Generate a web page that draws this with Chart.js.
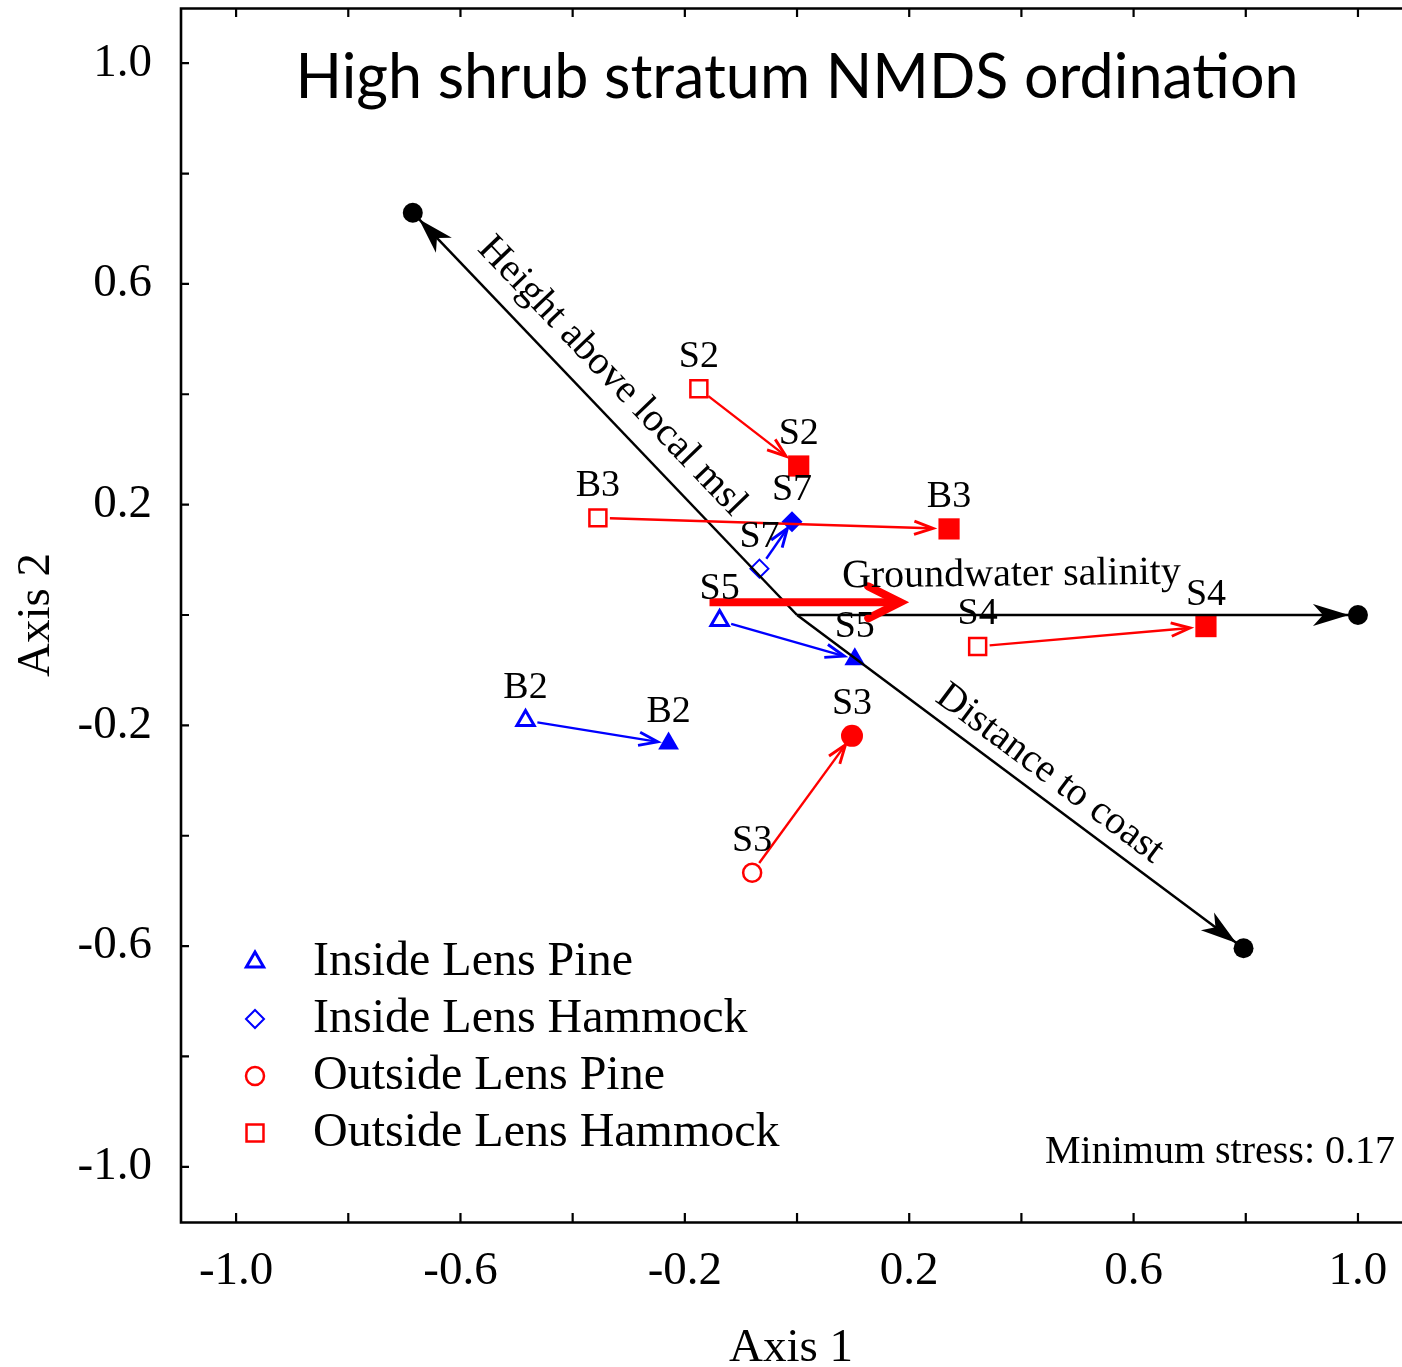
<!DOCTYPE html>
<html>
<head>
<meta charset="utf-8">
<title>High shrub stratum NMDS ordination</title>
<script src="https://cdn.jsdelivr.net/npm/chart.js@4.4.0/dist/chart.umd.min.js"></script>
<style>
html, body { margin: 0; padding: 0; background: #fff; overflow: hidden; }
#wrap { position: relative; width: 1402px; height: 1367px; }
</style>
</head>
<body>
<div id="wrap"><canvas id="nmds"></canvas></div>
<script>
// groups (legend order)
var groupNames = ['Inside Lens Pine', 'Inside Lens Hammock', 'Outside Lens Pine', 'Outside Lens Hammock'];

// open symbol = first survey, filled symbol = second survey
var ilpSites = ['B2', 'S5'];
var ilpOpenX = [-0.484, -0.138];
var ilpOpenY = [-0.191, -0.010];
var ilpFilledX = [-0.229, 0.103];
var ilpFilledY = [-0.233, -0.080];

var ilhSites = ['S7'];
var ilhOpenX = [-0.067];
var ilhOpenY = [0.084];
var ilhFilledX = [-0.009];
var ilhFilledY = [0.169];

var olpSites = ['S3'];
var olpOpenX = [-0.080];
var olpOpenY = [-0.467];
var olpFilledX = [0.098];
var olpFilledY = [-0.219];

var olhSites = ['S2', 'B3', 'S4'];
var olhOpenX = [-0.175, -0.355, 0.322];
var olhOpenY = [0.410, 0.176, -0.057];
var olhFilledX = [0.003, 0.271, 0.729];
var olhFilledY = [0.270, 0.156, -0.021];

// environmental vectors (biplot)
var envNames = ['Height above local msl', 'Distance to coast', 'Groundwater salinity'];
var envX = [-0.685, 0.796, 1.0];
var envY = [0.729, -0.604, 0.0];

// overall shift arrow
var shiftX = [-0.156, 0.184];
var shiftY = [0.023, 0.023];

var axisTicks = [-1.0, -0.8, -0.6, -0.4, -0.2, 0, 0.2, 0.4, 0.6, 0.8, 1.0];
var labeledTicks = ['-1.0', '-0.6', '-0.2', '0.2', '0.6', '1.0'];
var stressText = 'Minimum stress: 0.17';

var SERIF = "'Liberation Serif', 'Times New Roman', serif";
var BLUE = '#0000ff';
var RED = '#ff0000';

function pts(xs, ys) {
    return xs.map(function (x, i) { return {x: x, y: ys[i]}; });
}

var groups = [
    {sites: ilpSites, ox: ilpOpenX, oy: ilpOpenY, fx: ilpFilledX, fy: ilpFilledY, color: BLUE, style: 'triangle', rOpen: 10, rFill: 12, bw: 3, gapEnd: 11},
    {sites: ilhSites, ox: ilhOpenX, oy: ilhOpenY, fx: ilhFilledX, fy: ilhFilledY, color: BLUE, style: 'rectRot', rOpen: 9, rFill: 10.5, bw: 2, gapEnd: 8},
    {sites: olpSites, ox: olpOpenX, oy: olpOpenY, fx: olpFilledX, fy: olpFilledY, color: RED, style: 'circle', rOpen: 9, rFill: 11, bw: 2.5, gapEnd: 11},
    {sites: olhSites, ox: olhOpenX, oy: olhOpenY, fx: olhFilledX, fy: olhFilledY, color: RED, style: 'rect', rOpen: 12, rFill: 15, bw: 2.5, gapEnd: 16}
];

var datasets = [];
// big shift arrow (top)
datasets.push({
    label: 'shift', data: pts(shiftX, shiftY), showLine: true,
    borderColor: RED, borderWidth: 8, pointRadius: 0, order: 1
});
// vectors
envNames.forEach(function (name, i) {
    datasets.push({
        label: name, data: [{x: 0, y: 0}, {x: envX[i], y: envY[i]}], showLine: true,
        borderColor: '#000', borderWidth: 2.5, pointRadius: [0, 10], pointBorderWidth: 0,
        pointBackgroundColor: '#000', order: 2
    });
});
// site markers
groups.forEach(function (g, i) {
    g.openIndex = datasets.length;
    datasets.push({
        label: groupNames[i], data: pts(g.ox, g.oy), pointStyle: g.style,
        pointRadius: g.rOpen, pointBorderWidth: g.bw, pointBorderColor: g.color,
        pointBackgroundColor: 'rgba(0,0,0,0)', order: 3
    });
    datasets.push({
        label: groupNames[i] + ' (filled)', data: pts(g.fx, g.fy), pointStyle: g.style,
        pointRadius: g.rFill, pointBorderWidth: 0, pointBackgroundColor: g.color, order: 3
    });
});

function arrowTo(ctx, x1, y1, x2, y2, gap1, gap2, head) {
    var dx = x2 - x1, dy = y2 - y1, len = Math.sqrt(dx * dx + dy * dy);
    var ux = dx / len, uy = dy / len;
    var sx = x1 + ux * gap1, sy = y1 + uy * gap1;
    var ex = x2 - ux * gap2, ey = y2 - uy * gap2;
    var a = Math.atan2(dy, dx);
    ctx.lineWidth = 2.4;
    ctx.beginPath();
    ctx.moveTo(sx, sy);
    ctx.lineTo(ex - ux * 3, ey - uy * 3);
    ctx.stroke();
    ctx.lineWidth = 2.9;
    ctx.beginPath();
    ctx.moveTo(ex - head * Math.cos(a - 0.34), ey - head * Math.sin(a - 0.34));
    ctx.lineTo(ex, ey);
    ctx.lineTo(ex - head * Math.cos(a + 0.34), ey - head * Math.sin(a + 0.34));
    ctx.stroke();
}

function stealthHead(ctx, tx, ty, a, len, half, notch) {
    var bx = Math.cos(a), by = Math.sin(a), px = -by, py = bx;
    ctx.beginPath();
    ctx.moveTo(tx, ty);
    ctx.lineTo(tx - bx * len + px * half, ty - by * len + py * half);
    ctx.lineTo(tx - bx * notch, ty - by * notch);
    ctx.lineTo(tx - bx * len - px * half, ty - by * len - py * half);
    ctx.closePath();
    ctx.fill();
}

var decor = {
    id: 'decor',
    afterDatasetsDraw: function (chart) {
        var ctx = chart.ctx, xs = chart.scales.x, ys = chart.scales.y;
        var ox = xs.getPixelForValue(0), oy = ys.getPixelForValue(0);
        ctx.save();
        // vector arrowheads
        ctx.fillStyle = '#000';
        envNames.forEach(function (n, i) {
            var ex = xs.getPixelForValue(envX[i]), ey = ys.getPixelForValue(envY[i]);
            var a = Math.atan2(ey - oy, ex - ox);
            stealthHead(ctx, ex - Math.cos(a) * 9, ey - Math.sin(a) * 9, a, 36, 11, 26);
        });
        // shift arrow head
        var hx = xs.getPixelForValue(shiftX[1]), hy = ys.getPixelForValue(shiftY[1]);
        ctx.strokeStyle = RED;
        ctx.lineWidth = 8;
        ctx.lineCap = 'round';
        ctx.lineJoin = 'miter';
        ctx.beginPath();
        ctx.moveTo(hx - 32, hy - 16);
        ctx.lineTo(hx, hy);
        ctx.lineTo(hx - 32, hy + 16);
        ctx.stroke();
        // before -> after arrows
        ctx.lineCap = 'butt';
        groups.forEach(function (g) {
            ctx.strokeStyle = g.color;
            g.sites.forEach(function (s, k) {
                arrowTo(ctx, xs.getPixelForValue(g.ox[k]), ys.getPixelForValue(g.oy[k]),
                    xs.getPixelForValue(g.fx[k]), ys.getPixelForValue(g.fy[k]), 12, g.gapEnd, 20);
            });
        });
        // site labels
        ctx.fillStyle = '#000';
        ctx.font = '38px ' + SERIF;
        ctx.textAlign = 'center';
        ctx.textBaseline = 'middle';
        groups.forEach(function (g) {
            g.sites.forEach(function (s, k) {
                ctx.fillText(s, xs.getPixelForValue(g.ox[k]), ys.getPixelForValue(g.oy[k]) - 32);
                ctx.fillText(s, xs.getPixelForValue(g.fx[k]), ys.getPixelForValue(g.fy[k]) - 32);
            });
        });
        // vector labels, along each vector
        var place = [[0.54, 31], [0.534, 24], [0.383, 40]];
        ctx.font = '40px ' + SERIF;
        envNames.forEach(function (n, i) {
            var ex = xs.getPixelForValue(envX[i]), ey = ys.getPixelForValue(envY[i]);
            var a = Math.atan2(ey - oy, ex - ox);
            var rot = a;
            if (rot > Math.PI / 2) rot -= Math.PI;
            if (rot < -Math.PI / 2) rot += Math.PI;
            if (i === 2) rot = -0.011;
            var cx = ox + (ex - ox) * place[i][0] + Math.sin(rot) * place[i][1];
            var cy = oy + (ey - oy) * place[i][0] - Math.cos(rot) * place[i][1];
            ctx.save();
            ctx.translate(cx, cy);
            ctx.rotate(rot);
            ctx.fillText(n, 0, 0);
            ctx.restore();
        });
        ctx.restore();
    },
    afterDraw: function (chart) {
        var ctx = chart.ctx, area = chart.chartArea, xs = chart.scales.x, ys = chart.scales.y;
        ctx.save();
        // frame (right side falls outside the picture)
        ctx.strokeStyle = '#000';
        ctx.lineWidth = 2.6;
        ctx.beginPath();
        ctx.moveTo(area.right, area.top + 0.5);
        ctx.lineTo(area.left + 1, area.top + 0.5);
        ctx.lineTo(area.left + 1, area.bottom + 0.5);
        ctx.lineTo(area.right, area.bottom + 0.5);
        ctx.stroke();
        // inward ticks
        ctx.lineWidth = 2.2;
        ctx.beginPath();
        axisTicks.forEach(function (v) {
            var px = xs.getPixelForValue(v), py = ys.getPixelForValue(v);
            ctx.moveTo(px, area.bottom); ctx.lineTo(px, area.bottom - 9);
            ctx.moveTo(px, area.top); ctx.lineTo(px, area.top + 9);
            ctx.moveTo(area.left, py); ctx.lineTo(area.left + 9, py);
        });
        ctx.stroke();
        // title, centred on the full plot frame
        ctx.fillStyle = '#000';
        ctx.textAlign = 'center';
        ctx.textBaseline = 'alphabetic';
        ctx.font = "61px Lato, 'Open Sans', sans-serif";
        ctx.fillText('High shrub stratum NMDS ordination', xs.getPixelForValue(0), 98);
        // stress
        ctx.textAlign = 'right';
        ctx.font = '40px ' + SERIF;
        ctx.fillText(stressText, 1395, 1163);
        // legend
        ctx.textAlign = 'left';
        ctx.textBaseline = 'middle';
        ctx.font = '48px ' + SERIF;
        groups.forEach(function (g, i) {
            var ds = chart.data.datasets[g.openIndex];
            var y = 962 + i * 57;
            ctx.strokeStyle = g.color;
            ctx.fillStyle = 'rgba(0,0,0,0)';
            ctx.lineWidth = ds.pointBorderWidth;
            Chart.helpers.drawPoint(ctx, {pointStyle: ds.pointStyle, radius: ds.pointRadius, rotation: 0, borderWidth: ds.pointBorderWidth}, 255, y);
            ctx.fillStyle = '#000';
            ctx.fillText(ds.label, 313, y);
        });
        ctx.restore();
    }
};

var tickFont = {family: SERIF, size: 47};

new Chart(document.getElementById('nmds'), {
    type: 'scatter',
    data: {datasets: datasets},
    options: {
        responsive: true,
        maintainAspectRatio: false,
        animation: false,
        devicePixelRatio: 1,
        layout: {autoPadding: false, padding: {top: 8, right: 0, left: 0, bottom: 0}},
        plugins: {legend: {display: false}, tooltip: {enabled: false}},
        elements: {line: {tension: 0}},
        scales: {
            x: {
                // plot frame runs to 1.1, the picture is cut at the right edge
                type: 'linear', min: -1.1, max: 1.0785,
                grid: {display: false}, border: {display: false},
                afterBuildTicks: function (s) { s.ticks = axisTicks.map(function (v) { return {value: v}; }); },
                afterFit: function (s) { s.height = 145; s.paddingLeft = 0; s.paddingRight = 0; },
                ticks: {
                    color: '#000', font: tickFont, padding: 13, maxRotation: 0, autoSkip: false,
                    callback: function (v) { var t = Number(v).toFixed(1); return labeledTicks.indexOf(t) >= 0 ? t : ''; }
                },
                title: {display: true, text: 'Axis 1', color: '#000', font: {family: SERIF, size: 47, lineHeight: 1}, padding: {top: 0, bottom: -5}}
            },
            y: {
                type: 'linear', min: -1.1, max: 1.1,
                grid: {display: false}, border: {display: false},
                afterBuildTicks: function (s) { s.ticks = axisTicks.map(function (v) { return {value: v}; }); },
                afterFit: function (s) { s.width = 180; s.paddingTop = 0; s.paddingBottom = 0; },
                ticks: {
                    color: '#000', font: tickFont, padding: 20, autoSkip: false,
                    callback: function (v) { var t = Number(v).toFixed(1); return labeledTicks.indexOf(t) >= 0 ? t : ''; }
                },
                title: {display: true, text: 'Axis 2', color: '#000', font: {family: SERIF, size: 47, lineHeight: 1}, padding: {top: 13, bottom: 0}}
            }
        }
    },
    plugins: [decor]
});
</script>
</body>
</html>
